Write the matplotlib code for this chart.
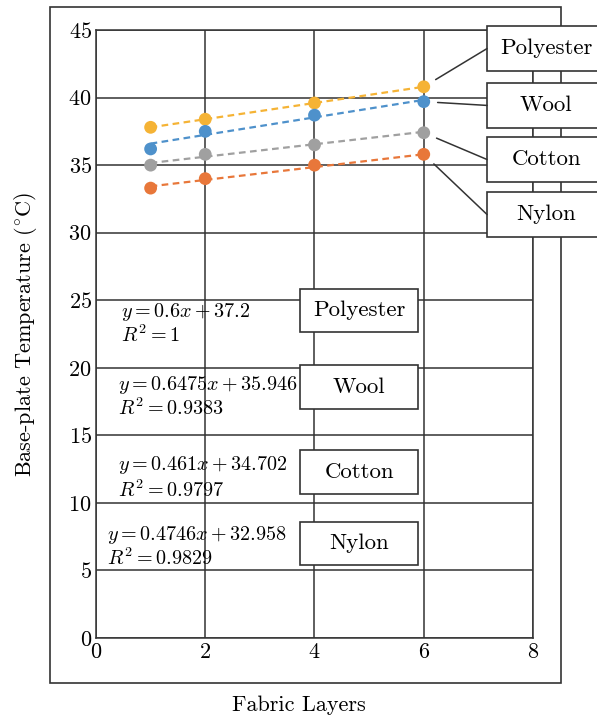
import matplotlib
matplotlib.use("Agg")
import matplotlib.pyplot as plt
from matplotlib.patches import Rectangle
import numpy as np

plt.rcParams['font.family'] = 'cmr10'
plt.rcParams['mathtext.fontset'] = 'cm'
plt.rcParams['axes.formatter.use_mathtext'] = True

# data
layers = [1, 2, 4, 6]
fabrics = ["Polyester", "Wool", "Cotton", "Nylon"]
polyester = [37.8, 38.4, 39.6, 40.8]
wool = [36.2, 37.5, 38.7, 39.7]
cotton = [35.0, 35.8, 36.5, 37.4]
nylon = [33.3, 34.0, 35.0, 35.8]
slopes = [0.6, 0.6475, 0.461, 0.4746]
intercepts = [37.2, 35.946, 34.702, 32.958]
r2_text = ["1", "0.9383", "0.9797", "0.9829"]
slope_text = ["0.6", "0.6475", "0.461", "0.4746"]
icpt_text = ["37.2", "35.946", "34.702", "32.958"]
colors = ["#F5B335", "#4E91CB", "#A0A0A0", "#E8773A"]

series = [polyester, wool, cotton, nylon]
edge = "#333333"

fig = plt.figure(figsize=(5.97, 7.22), dpi=100)
ax = fig.add_axes([0.1608, 0.1163, 0.732, 0.8421])

# outer frame
ax.add_patch(Rectangle((0.0838, 0.054), 0.8559, 0.9365, transform=fig.transFigure,
                       fill=False, edgecolor=edge, lw=1.2, clip_on=False, zorder=0.5))

xfit = np.array([1, 6])
for ys, c, m, b in zip(series, colors, slopes, intercepts):
    ax.plot(xfit, m * xfit + b, ls=(0, (3, 2)), color=c, lw=1.6, zorder=3)
    ax.scatter(layers, ys, s=85, color=c, zorder=4, edgecolors='none')

ax.set_xlim(0, 8)
ax.set_ylim(0, 45)
ax.set_xticks(range(0, 9, 2))
ax.set_yticks(range(0, 46, 5))
ax.grid(True, color=edge, lw=1.1)
ax.set_axisbelow(True)
ax.tick_params(length=0, labelsize=16, pad=3)
for sp in ax.spines.values():
    sp.set_color(edge)
    sp.set_linewidth(1.1)

fig.text(0.042, 0.537, r"Base-plate Temperature $(^{\circ}\mathrm{C})$", rotation=90,
         ha='center', va='center', fontsize=16)
fig.text(0.5, 0.0235, "Fabric Layers", ha='center', va='center', fontsize=16)

# equations and middle labels
eq_x = [0.057, 0.050, 0.050, 0.025]
eq_y = [0.536, 0.416, 0.2845, 0.169]
r2_y = [0.498, 0.378, 0.243, 0.1316]
mid_y = [0.503, 0.377, 0.237, 0.120]
for i in range(4):
    ax.text(eq_x[i], eq_y[i], r"$y=%s x+%s$" % (slope_text[i], icpt_text[i]),
            transform=ax.transAxes, ha='left', va='center', fontsize=14.5, zorder=6)
    ax.text(eq_x[i], r2_y[i], r"$R^2=%s$" % r2_text[i],
            transform=ax.transAxes, ha='left', va='center', fontsize=14.5, zorder=6)
    ax.add_patch(Rectangle((0.467, mid_y[i]), 0.27, 0.0715, transform=ax.transAxes,
                           facecolor='white', edgecolor=edge, lw=1.2, zorder=5))
    ax.text(0.467 + 0.135, mid_y[i] + 0.0357, fabrics[i], transform=ax.transAxes,
            ha='center', va='center', fontsize=16.5, zorder=6)

# right-hand callouts
right_y = [0.9326, 0.839, 0.75, 0.6595]
for i in range(4):
    ax.add_patch(Rectangle((0.895, right_y[i]), 0.275, 0.074, transform=ax.transAxes,
                           facecolor='white', edgecolor=edge, lw=1.2, zorder=5,
                           clip_on=False))
    ax.text(0.895 + 0.135, right_y[i] + 0.037, fabrics[i], transform=ax.transAxes,
            ha='center', va='center', fontsize=16.5, zorder=6, clip_on=False)
    ax.annotate("", xy=(layers[-1], series[i][-1]),
                xytext=(0.895, right_y[i] + 0.037), textcoords='axes fraction',
                arrowprops=dict(arrowstyle='-', color=edge, lw=1.1,
                                shrinkA=0, shrinkB=10),
                annotation_clip=False, zorder=6)

fig.savefig("out.png", dpi=100)
